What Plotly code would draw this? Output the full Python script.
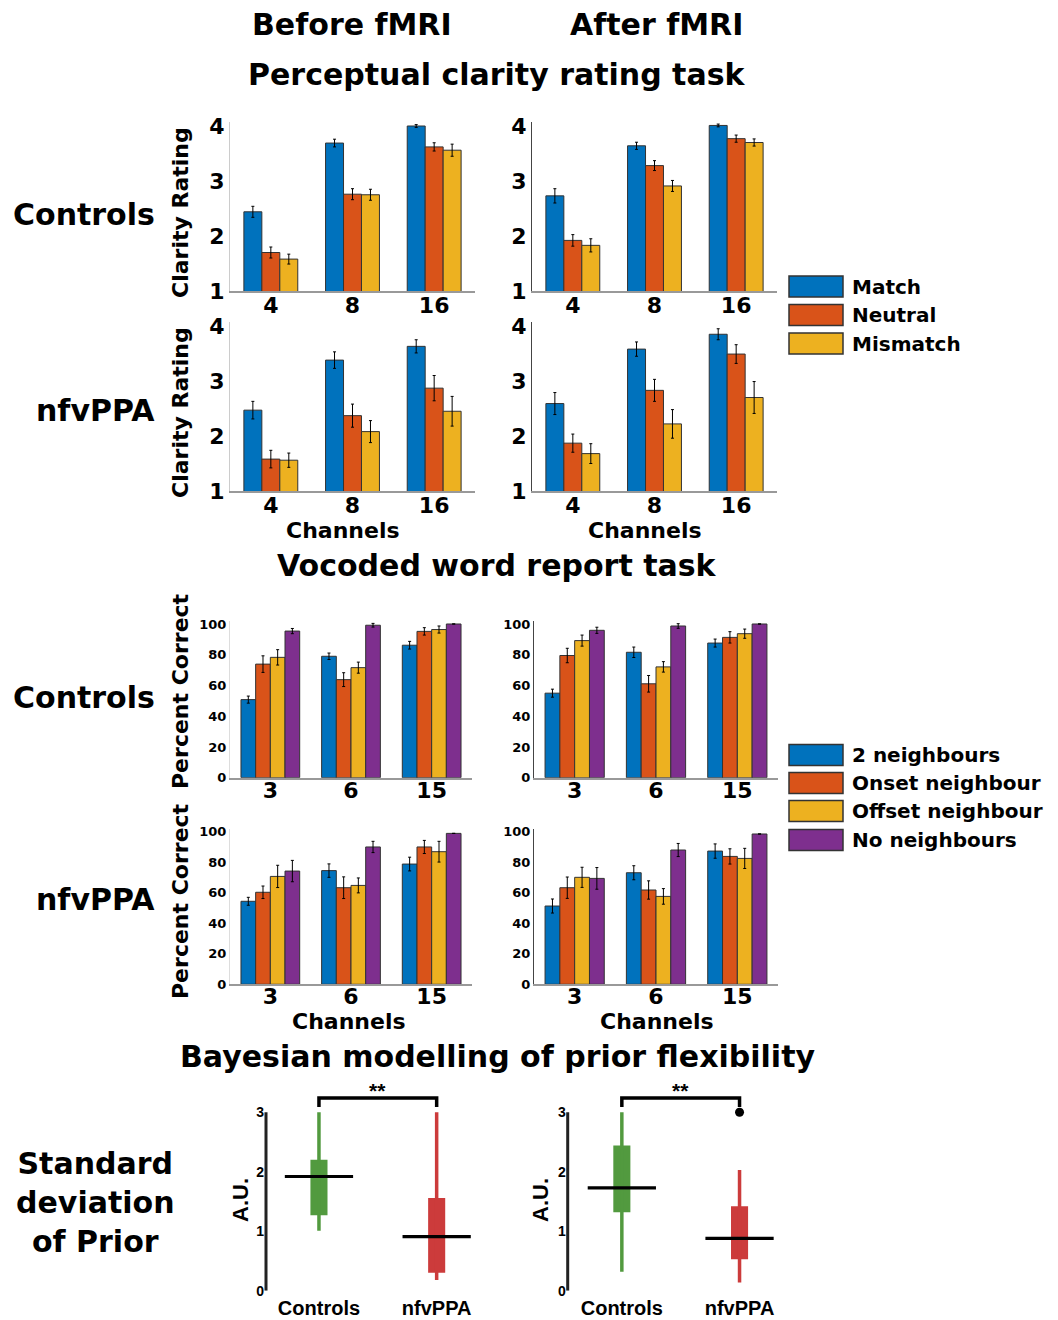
import plotly.graph_objects as go

W, H = 1058, 1320

# ---------------- data ----------------
channels_clarity = ["4", "8", "16"]
clarity_conditions = ["Match", "Neutral", "Mismatch"]
clarity_colors = ["#0072BD", "#D95319", "#EDB120"]

# rows: Match, Neutral, Mismatch ; columns: 4, 8, 16 channels
clar_ctrl_pre_mean = [[2.44, 3.69, 4.00], [1.70, 2.76, 3.62], [1.58, 2.75, 3.56]]
clar_ctrl_pre_err = [[0.10, 0.07, 0.025], [0.10, 0.10, 0.075], [0.09, 0.10, 0.11]]
clar_ctrl_post_mean = [[2.73, 3.64, 4.01], [1.92, 3.28, 3.77], [1.83, 2.91, 3.70]]
clar_ctrl_post_err = [[0.13, 0.065, 0.025], [0.105, 0.09, 0.065], [0.12, 0.10, 0.065]]
clar_nfv_pre_mean = [[2.47, 3.38, 3.63], [1.58, 2.37, 2.87], [1.56, 2.08, 2.45]]
clar_nfv_pre_err = [[0.16, 0.15, 0.12], [0.16, 0.21, 0.23], [0.13, 0.20, 0.27]]
clar_nfv_post_mean = [[2.59, 3.58, 3.85], [1.87, 2.83, 3.49], [1.68, 2.22, 2.70]]
clar_nfv_post_err = [[0.20, 0.13, 0.10], [0.165, 0.20, 0.17], [0.18, 0.26, 0.29]]

channels_word = ["3", "6", "15"]
word_conditions = ["2 neighbours", "Onset neighbour", "Offset neighbour", "No neighbours"]
word_colors = ["#0072BD", "#D95319", "#EDB120", "#7E2F8E"]

# rows: 2 / Onset / Offset / No neighbours ; columns: 3, 6, 15 channels
word_ctrl_pre_mean = [[50.8, 79.0, 86.2], [73.9, 63.8, 95.2], [78.3, 71.6, 96.4], [95.4, 99.2, 100.0]]
word_ctrl_pre_err = [[2.3, 2.1, 2.5], [5.4, 4.5, 2.4], [5.0, 3.6, 2.3], [1.7, 1.2, 0.0]]
word_ctrl_post_mean = [[55.0, 81.6, 87.6], [79.5, 61.1, 91.3], [89.2, 72.1, 93.7], [95.9, 98.7, 100.0]]
word_ctrl_post_err = [[2.6, 3.4, 2.6], [4.7, 5.4, 3.7], [3.6, 3.4, 3.0], [2.0, 1.5, 0.0]]
word_nfv_pre_mean = [[54.4, 74.5, 78.8], [60.3, 63.3, 90.0], [70.7, 64.8, 86.9], [74.2, 90.0, 98.9]]
word_nfv_pre_err = [[2.6, 4.4, 4.5], [4.1, 7.1, 4.3], [7.3, 4.9, 6.8], [7.0, 3.7, 0.0]]
word_nfv_post_mean = [[51.3, 73.1, 87.3], [63.3, 61.8, 83.8], [70.1, 57.6, 82.5], [69.4, 88.0, 98.5]]
word_nfv_post_err = [[4.6, 4.6, 4.7], [7.0, 6.0, 5.0], [6.6, 5.1, 6.6], [7.1, 4.3, 0.0]]

groups = ["Controls", "nfvPPA"]
group_colors = ["#529A3F", "#CC3B3B"]
# before fMRI: Controls, nfvPPA
prior_pre_low = [1.01, 0.18]
prior_pre_q1 = [1.27, 0.30]
prior_pre_median = [1.92, 0.91]
prior_pre_q3 = [2.20, 1.56]
prior_pre_high = [3.00, 3.00]
prior_pre_outliers = [[], []]
# after fMRI
prior_post_low = [0.32, 0.14]
prior_post_q1 = [1.32, 0.53]
prior_post_median = [1.73, 0.88]
prior_post_q3 = [2.44, 1.42]
prior_post_high = [3.00, 2.03]
prior_post_outliers = [[], [3.00]]
prior_yticks = [0, 1, 2, 3]

# ---------------- helpers ----------------
BOLD = dict(family="DejaVu Sans", weight="bold", color="black")
ARIALB = dict(family="Liberation Sans", weight="bold", color="black")


def fx(p):
    return p / W


def fy(p):
    return 1 - p / H


fig = go.Figure()
layout = {}
shapes = []
annotations = []


def axis_names(i):
    s = "" if i == 1 else str(i)
    return "xaxis" + s, "yaxis" + s, "x" + s, "y" + s


def bar_panel(i, xl, xr, ybottom, ppu, yrange, means, errs, colors, names, ticktext,
              yticks, ytickfont, yline_color, barw, xstand):
    xa, ya, xr_, yr_ = axis_names(i)
    ytop = ybottom - (yrange[1] - yrange[0]) * ppu
    layout[xa] = dict(domain=[fx(xl), fx(xr)], range=[0.5, 3.5], anchor=yr_,
                      tickvals=[1, 2, 3], ticktext=ticktext, showgrid=False, zeroline=False,
                      showline=True, linecolor="#999999", linewidth=1.5, ticks="",
                      tickfont=dict(size=22, **BOLD), fixedrange=True, automargin=False,
                      ticklabelstandoff=xstand)
    layout[ya] = dict(domain=[fy(ybottom), fy(ytop)], range=yrange, anchor=xr_,
                      tickvals=yticks, showgrid=False, zeroline=False, automargin=False,
                      showline=True, linecolor=yline_color, linewidth=1.2, ticks="",
                      tickfont=ytickfont, ticklabelstandoff=0)
    n = len(means)
    for k in range(n):
        offset = (k - n / 2) * barw
        fig.add_trace(go.Bar(
            x=[1, 2, 3], y=means[k], name=names[k], width=barw, offset=offset,
            marker=dict(color=colors[k], line=dict(color="#333333", width=1)),
            error_y=dict(type="data", array=errs[k], color="black", thickness=1, width=1.5),
            xaxis=xr_, yaxis=yr_, showlegend=False))


clar_ytf = dict(size=22, **BOLD)
word_ytf = dict(size=13, **BOLD)

bar_panel(1, 230, 475, 291, 55, [1, 4.08], clar_ctrl_pre_mean, clar_ctrl_pre_err,
          clarity_colors, clarity_conditions, channels_clarity, [1, 2, 3, 4], clar_ytf, "#cccccc", 0.22, -6)
bar_panel(2, 532, 777, 291, 55, [1, 4.08], clar_ctrl_post_mean, clar_ctrl_post_err,
          clarity_colors, clarity_conditions, channels_clarity, [1, 2, 3, 4], clar_ytf, "#444444", 0.22, -6)
bar_panel(3, 230, 475, 491, 55, [1, 4.08], clar_nfv_pre_mean, clar_nfv_pre_err,
          clarity_colors, clarity_conditions, channels_clarity, [1, 2, 3, 4], clar_ytf, "#cccccc", 0.22, -6)
bar_panel(4, 532, 777, 491, 55, [1, 4.08], clar_nfv_post_mean, clar_nfv_post_err,
          clarity_colors, clarity_conditions, channels_clarity, [1, 2, 3, 4], clar_ytf, "#444444", 0.22, -6)

wt = [0, 20, 40, 60, 80, 100]
bar_panel(5, 230, 472, 777.7, 1.537, [0, 102], word_ctrl_pre_mean, word_ctrl_pre_err,
          word_colors, word_conditions, channels_word, wt, word_ytf, "#dddddd", 0.182, -8)
bar_panel(6, 534, 778, 777.7, 1.537, [0, 102], word_ctrl_post_mean, word_ctrl_post_err,
          word_colors, word_conditions, channels_word, wt, word_ytf, "#444444", 0.182, -8)
bar_panel(7, 230, 472, 984.3, 1.526, [0, 102], word_nfv_pre_mean, word_nfv_pre_err,
          word_colors, word_conditions, channels_word, wt, word_ytf, "#dddddd", 0.182, -8)
bar_panel(8, 534, 778, 984.3, 1.526, [0, 102], word_nfv_post_mean, word_nfv_post_err,
          word_colors, word_conditions, channels_word, wt, word_ytf, "#444444", 0.182, -8)


def prior_panel(i, xl, xstart, low, q1, med, q3, high, outliers):
    xa, ya, xr_, yr_ = axis_names(i)
    ppx = 117.7
    xend = 2.45
    xr = xl + (xend - xstart) * ppx
    ybottom, ppu, ymax = 1290.7, 59.47, 3.45
    ytop = ybottom - ymax * ppu
    pos = [1, 2]
    layout[xa] = dict(domain=[fx(xl), fx(xr)], range=[xstart, xend], anchor=yr_,
                      tickvals=pos, ticktext=groups, showgrid=False, zeroline=False,
                      showline=False, ticks="", tickfont=dict(size=20, **ARIALB),
                      ticklabelstandoff=3, automargin=False)
    layout[ya] = dict(domain=[fy(ybottom), fy(ytop)], range=[0, ymax], anchor=xr_,
                      tickvals=prior_yticks, showgrid=False, zeroline=False, showline=False,
                      ticks="", tickfont=dict(size=14, **ARIALB), ticklabelstandoff=1,
                      automargin=False)
    shapes.append(dict(type="line", xref=xr_ + " domain", yref=yr_, x0=0, x1=0,
                       y0=prior_yticks[0], y1=prior_yticks[-1],
                       line=dict(color="#222222", width=3)))
    # whiskers
    for g in range(2):
        fig.add_trace(go.Scatter(x=[pos[g], pos[g]], y=[low[g], high[g]], mode="lines",
                                 line=dict(color=group_colors[g], width=3.5),
                                 xaxis=xr_, yaxis=yr_, showlegend=False, hoverinfo="skip"))
    # boxes
    fig.add_trace(go.Bar(x=pos, y=[q3[g] - q1[g] for g in range(2)], base=q1, width=0.145,
                         marker=dict(color=group_colors, line=dict(width=0)),
                         xaxis=xr_, yaxis=yr_, showlegend=False))
    # medians
    mx, my = [], []
    for g in range(2):
        mx += [pos[g] - 0.29, pos[g] + 0.29, None]
        my += [med[g], med[g], None]
    fig.add_trace(go.Scatter(x=mx, y=my, mode="lines", line=dict(color="black", width=3.2),
                             xaxis=xr_, yaxis=yr_, showlegend=False, hoverinfo="skip"))
    # outliers
    ox, oy = [], []
    for g in range(2):
        for v in outliers[g]:
            ox.append(pos[g])
            oy.append(v)
    if ox:
        fig.add_trace(go.Scatter(x=ox, y=oy, mode="markers", marker=dict(color="black", size=9),
                                 xaxis=xr_, yaxis=yr_, showlegend=False, cliponaxis=False))
    # significance bracket
    top = max(max(high), 3.0)
    yb, ye = top + 0.24, top + 0.09
    fig.add_trace(go.Scatter(x=[pos[0], pos[0], pos[1], pos[1]], y=[ye, yb, yb, ye], mode="lines",
                             line=dict(color="black", width=3.5),
                             xaxis=xr_, yaxis=yr_, showlegend=False, hoverinfo="skip"))
    annotations.append(dict(x=(pos[0] + pos[1]) / 2, y=top + 0.36, xref=xr_, yref=yr_,
                            text="**", showarrow=False, font=dict(size=21, **ARIALB),
                            xanchor="center", yanchor="middle"))


prior_panel(9, 266, 0.55, prior_pre_low, prior_pre_q1, prior_pre_median, prior_pre_q3,
            prior_pre_high, prior_pre_outliers)
prior_panel(10, 567.7, 0.54, prior_post_low, prior_post_q1, prior_post_median, prior_post_q3,
            prior_post_high, prior_post_outliers)


# ---------------- text ----------------
def text(x, y, s, size=30, angle=0, xanchor="center", font=BOLD, align="center"):
    annotations.append(dict(x=fx(x), y=fy(y), xref="paper", yref="paper", text=s,
                            showarrow=False, textangle=angle, xanchor=xanchor, yanchor="middle",
                            align=align, font=dict(size=size, **font)))


text(352, 24, "Before fMRI")
text(656, 24, "After fMRI")
text(497, 75, "Perceptual clarity rating task")
text(497, 566, "Vocoded word report task")
text(497, 1056, "Bayesian modelling of prior flexibility")
text(157, 214, "Controls", xanchor="right")
text(157, 411, "nfvPPA", xanchor="right")
text(157, 697, "Controls", xanchor="right")
text(157, 900, "nfvPPA", xanchor="right")
text(95, 1202, "Standard<br>deviation<br>of Prior")

text(180, 213, "Clarity Rating", size=22, angle=-90)
text(180, 413, "Clarity Rating", size=22, angle=-90)
text(180, 691, "Percent Correct", size=22, angle=-90)
text(180, 901, "Percent Correct", size=22, angle=-90)
text(343, 530, "Channels", size=22)
text(645, 530, "Channels", size=22)
text(349, 1021, "Channels", size=22)
text(657, 1021, "Channels", size=22)
text(240, 1200, "A.U.", size=22, angle=-90, font=ARIALB)
text(540, 1200, "A.U.", size=22, angle=-90, font=ARIALB)

# ---------------- legends ----------------
def legend(names, colors, centers):
    for nm, c, yc in zip(names, colors, centers):
        shapes.append(dict(type="rect", xref="paper", yref="paper", x0=fx(789), x1=fx(843),
                           y0=fy(yc + 10.5), y1=fy(yc - 10.5), fillcolor=c,
                           line=dict(color="#333333", width=1.5)))
        text(850, yc, nm, size=20, xanchor="left")


legend(clarity_conditions, clarity_colors, [286.5, 315, 343.5])
legend(word_conditions, word_colors, [755, 783, 811, 840])

fig.update_layout(**layout)
fig.update_layout(width=W, height=H, margin=dict(l=0, r=0, t=0, b=0, pad=0, autoexpand=False),
                  template="none",
                  paper_bgcolor="white", plot_bgcolor="white", barmode="overlay",
                  showlegend=False, shapes=shapes, annotations=annotations)
fig.write_html("out.html", config={"displayModeBar": False},
               post_script="document.body.style.margin='0px';document.body.style.overflow='hidden';")
